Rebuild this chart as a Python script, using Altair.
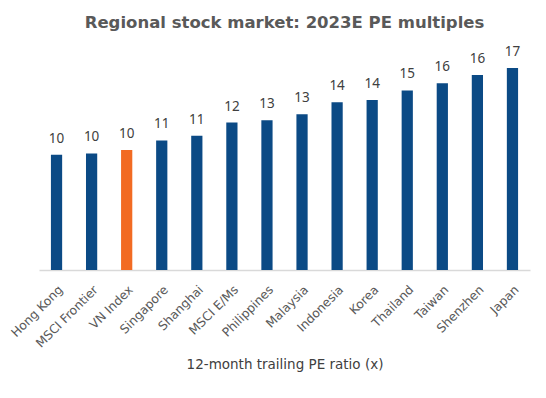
import altair as alt
import pandas as pd

markets = ["Hong Kong", "MSCI Frontier", "VN Index", "Singapore", "Shanghai",
           "MSCI E/Ms", "Philippines", "Malaysia", "Indonesia", "Korea",
           "Thailand", "Taiwan", "Shenzhen", "Japan"]
pe = [9.7, 9.8, 10.1, 10.9, 11.3, 12.4, 12.6, 13.1, 14.1, 14.3, 15.1, 15.7, 16.4, 17.0]
highlight = ["VN Index"]

df = pd.DataFrame({"market": markets, "pe": pe})
df["label"] = df["pe"].round(0).astype(int).astype(str)
df["hl"] = df["market"].isin(highlight)

x = alt.X("market:N", sort=markets,
          scale=alt.Scale(paddingInner=0.68, paddingOuter=0.34),
          axis=alt.Axis(title="12-month trailing PE ratio (x)", labelAngle=-45,
                        labelAlign="right", labelBaseline="top",
                        labelFont="DejaVu Sans", labelFontSize=12.3, labelColor="#595959",
                        labelPadding=13, ticks=False, domainColor="#d9d9d9", domainWidth=1.5,
                        titleFont="DejaVu Sans", titleFontSize=13.5, titleFontWeight="normal",
                        titleColor="#404040", titleY=87, titleBaseline="top"))
y = alt.Y("pe:Q", scale=alt.Scale(domain=[0, 18]), axis=None)

bars = alt.Chart(df).mark_bar().encode(
    x=x, y=y,
    color=alt.condition(alt.datum.hl, alt.value("#f26b23"), alt.value("#0b4a85")),
)
text = alt.Chart(df).mark_text(dy=-16, font="Noto Sans", fontSize=13.5, color="#404040").encode(
    x=alt.X("market:N", sort=markets), y=y, text="label:N"
)

chart = (bars + text).properties(
    width=491, height=214,
    autosize=alt.AutoSizeParams(type="none"),
    padding={"left": 31, "top": 48, "right": 8, "bottom": 110},
    title=alt.TitleParams("Regional stock market: 2023E PE multiples", font="DejaVu Sans",
                          fontSize=16.5, fontWeight="bold", color="#595959", offset=13,
                          anchor="middle"),
).configure_view(stroke=None)

chart.save("out.html", embed_options={"renderer": "svg", "actions": False})
